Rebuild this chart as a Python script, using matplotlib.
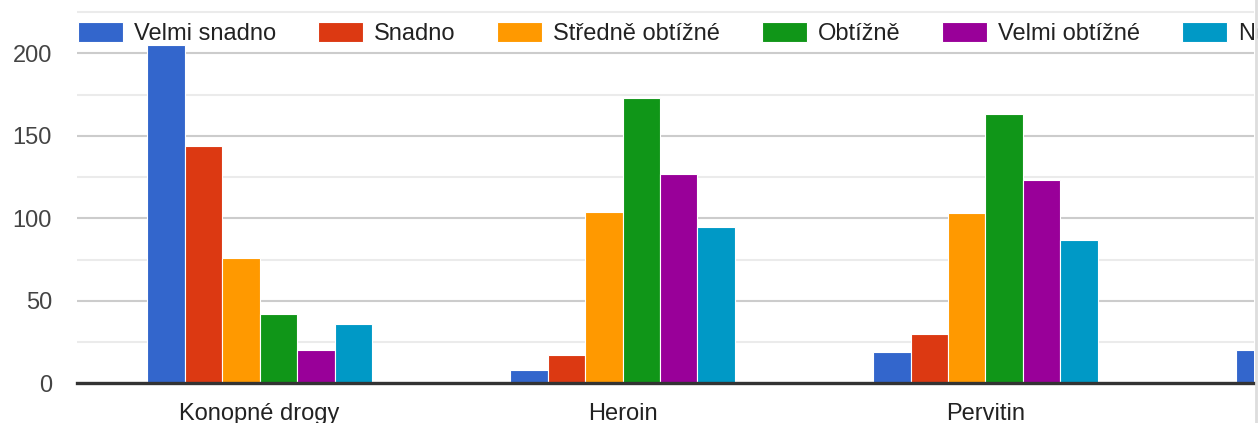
import numpy as np
import matplotlib
matplotlib.use("Agg")
import matplotlib.pyplot as plt
from matplotlib.lines import Line2D

plt.rcParams['font.family'] = ['Liberation Sans', 'DejaVu Sans']

# data (the 4th group is mostly cut off at the right)
kategorie = ['Konopné drogy', 'Heroin', 'Pervitin', '']
serie = ['Velmi snadno', 'Snadno', 'Středně obtížné', 'Obtížně', 'Velmi obtížné', 'Nevím']
velmi_snadno = [205, 8, 19, 20]
snadno = [144, 17, 30, np.nan]
stredne = [76, 104, 103, np.nan]
obtizne = [42, 173, 163, np.nan]
velmi_obtizne = [20, 127, 123, np.nan]
nevim = [36, 95, 87, np.nan]
barvy = ['#3366CC', '#DC3912', '#FF9900', '#109618', '#990099', '#0099C6']

hodnoty = [velmi_snadno, snadno, stredne, obtizne, velmi_obtizne, nevim]

fig = plt.figure(figsize=(12.58, 4.23), dpi=100)
ax = fig.add_axes([77 / 1258, 1 - 383.3 / 423, (1254 - 77) / 1258, 383.3 / 423])

x = np.arange(len(kategorie))
sirka = 0.1033
for i, (vals, nazev, barva) in enumerate(zip(hodnoty, serie, barvy)):
    pos = x + (i - 2.5) * sirka
    ax.bar(pos, vals, width=sirka, color=barva, edgecolor='white', linewidth=0.8,
           label=nazev, zorder=3)

ax.set_xticks(x)
ax.set_xticklabels(kategorie)

# gridlines
ax.set_yticks([0, 50, 100, 150, 200])
ax.set_yticks([25, 75, 125, 175, 225], minor=True)
ax.grid(axis='y', which='major', color='#cccccc', linewidth=1.5, zorder=1)
ax.grid(axis='y', which='minor', color='#ebebeb', linewidth=1.5, zorder=1)
ax.axhline(0, color='#333333', linewidth=2.4, zorder=4, clip_on=False)

# limits after the ticks, otherwise set_xticks widens the view
ax.set_xlim(-0.5028, 2.7397)
ax.set_ylim(0, 232.3)

for s in ax.spines.values():
    s.set_visible(False)

ax.tick_params(axis='x', length=0, pad=14, labelsize=17, labelcolor='#222222')
ax.tick_params(axis='y', which='both', length=0, pad=18, labelsize=17, labelcolor='#444444')

# legend across the top, runs past the right edge like the original
leg = ax.legend(loc='upper left', bbox_to_anchor=(78 / 1258, 1 - 22 / 423),
                bbox_transform=fig.transFigure, ncol=6, frameon=False,
                fontsize=17, handlelength=1.92, handleheight=0.95,
                handletextpad=0.46, columnspacing=1.76, borderpad=0,
                borderaxespad=0)
for t in leg.get_texts():
    t.set_color('#222222')

# thin border at the right side
fig.add_artist(Line2D([1255.5 / 1258, 1255.5 / 1258], [0, 1], transform=fig.transFigure,
                      color='#dddddd', linewidth=2))

fig.savefig('out.png', dpi=100)
